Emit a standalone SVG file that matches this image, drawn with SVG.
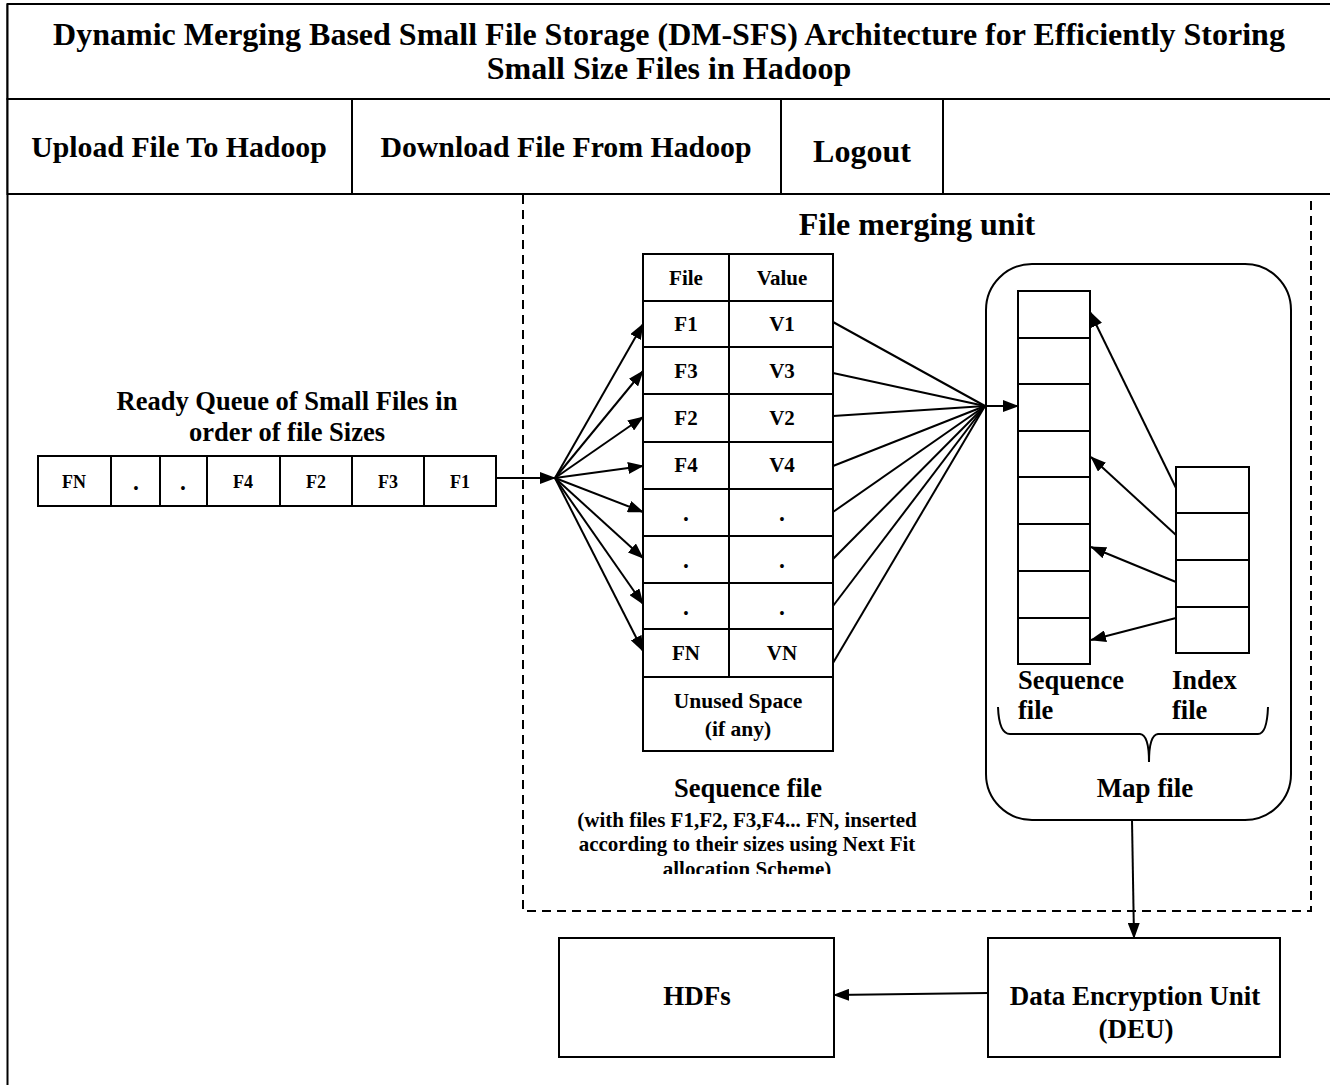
<svg xmlns="http://www.w3.org/2000/svg" width="1330" height="1085" viewBox="0 0 1330 1085">
<style>
text{font-family:"Liberation Serif","Times New Roman",serif;font-weight:bold;fill:#000;text-anchor:middle}
.ln{fill:none;stroke:#000;stroke-width:2}
.box{fill:#fff;stroke:#000;stroke-width:2}
.dash{fill:none;stroke:#000;stroke-width:2;stroke-dasharray:9 6}
.arr{fill:none;stroke:#000;stroke-width:2;marker-end:url(#ah)}
.t18{font-size:18px}.t21{font-size:21px}.t26{font-size:26.5px}.t30{font-size:29.8px}.dot{font-size:14px}
</style>
<defs>
<marker id="ah" markerUnits="userSpaceOnUse" markerWidth="16" markerHeight="12" refX="15" refY="6" orient="auto">
<path d="M0,0 L16,6 L0,12 z" fill="#000"/>
</marker>
<clipPath id="clipSub"><rect x="540" y="800" width="420" height="74"/></clipPath>
</defs>
<rect width="1330" height="1085" fill="#fff"/>

<g id="frame">
<line class="ln" x1="7.5" y1="4" x2="7.5" y2="1085"/>
</g>

<g id="title">
<rect class="box" x="7.5" y="4" width="1330" height="95"/>
<text x="669" y="45" style="font-size:32px">Dynamic Merging Based Small File Storage (DM-SFS) Architecture for Efficiently Storing</text>
<text x="669" y="79" style="font-size:32px">Small Size Files in Hadoop</text>
</g>

<g id="menu">
<rect class="box" x="7.5" y="99" width="1330" height="95"/>
<line class="ln" x1="352" y1="99" x2="352" y2="194"/>
<line class="ln" x1="781" y1="99" x2="781" y2="194"/>
<line class="ln" x1="943" y1="99" x2="943" y2="194"/>
<text class="t30" x="179" y="157">Upload File To Hadoop</text>
<text class="t30" x="566" y="157">Download File From Hadoop</text>
<text x="862" y="162" style="font-size:32px">Logout</text>
</g>

<g id="merging-unit">
<rect class="dash" x="523" y="194" width="788" height="717"/>
<text x="917" y="235" style="font-size:32px">File merging unit</text>
</g>

<g id="ready-queue">
<text x="287" y="410" style="font-size:26.5px">Ready Queue of Small Files in</text>
<text x="287" y="441" style="font-size:26.5px">order of file Sizes</text>
<rect class="box" x="38" y="456" width="458" height="50"/>
<line class="ln" x1="111" y1="456" x2="111" y2="506"/>
<line class="ln" x1="160" y1="456" x2="160" y2="506"/>
<line class="ln" x1="207" y1="456" x2="207" y2="506"/>
<line class="ln" x1="280" y1="456" x2="280" y2="506"/>
<line class="ln" x1="352" y1="456" x2="352" y2="506"/>
<line class="ln" x1="424" y1="456" x2="424" y2="506"/>
<text class="t18" x="74" y="488">FN</text>
<text class="dot" x="136" y="493">•</text>
<text class="dot" x="183" y="493">•</text>
<text class="t18" x="243" y="488">F4</text>
<text class="t18" x="316" y="488">F2</text>
<text class="t18" x="388" y="488">F3</text>
<text class="t18" x="460" y="488">F1</text>
</g>

<g id="sequence-table">
<rect class="box" x="643" y="254" width="190" height="497"/>
<line class="ln" x1="729" y1="254" x2="729" y2="677"/>
<line class="ln" x1="643" y1="301" x2="833" y2="301"/>
<line class="ln" x1="643" y1="347" x2="833" y2="347"/>
<line class="ln" x1="643" y1="394" x2="833" y2="394"/>
<line class="ln" x1="643" y1="442" x2="833" y2="442"/>
<line class="ln" x1="643" y1="489" x2="833" y2="489"/>
<line class="ln" x1="643" y1="536" x2="833" y2="536"/>
<line class="ln" x1="643" y1="583" x2="833" y2="583"/>
<line class="ln" x1="643" y1="629" x2="833" y2="629"/>
<line class="ln" x1="643" y1="677" x2="833" y2="677"/>
<text class="t21" x="686" y="285">File</text>
<text class="t21" x="782" y="285">Value</text>
<text class="t21" x="686" y="331">F1</text>
<text class="t21" x="782" y="331">V1</text>
<text class="t21" x="686" y="378">F3</text>
<text class="t21" x="782" y="378">V3</text>
<text class="t21" x="686" y="425">F2</text>
<text class="t21" x="782" y="425">V2</text>
<text class="t21" x="686" y="472">F4</text>
<text class="t21" x="782" y="472">V4</text>
<text class="dot" x="686" y="524">•</text>
<text class="dot" x="782" y="524">•</text>
<text class="dot" x="686" y="571">•</text>
<text class="dot" x="782" y="571">•</text>
<text class="dot" x="686" y="618">•</text>
<text class="dot" x="782" y="618">•</text>
<text class="t21" x="686" y="660">FN</text>
<text class="t21" x="782" y="660">VN</text>
<text x="738" y="708" style="font-size:21.5px">Unused Space</text>
<text x="738" y="736" style="font-size:21.5px">(if any)</text>
<text class="t26" x="748" y="797">Sequence file</text>
<g clip-path="url(#clipSub)">
<text class="t21" x="747" y="827">(with files F1,F2, F3,F4... FN, inserted</text>
<text class="t21" x="747" y="851">according to their sizes using Next Fit</text>
<text class="t21" x="747" y="876">allocation Scheme)</text>
</g>
</g>

<g id="map-file">
<rect class="box" x="986" y="264" width="305" height="556" rx="46" ry="46"/>
<rect class="box" x="1018" y="291" width="72" height="373"/>
<line class="ln" x1="1018" y1="338" x2="1090" y2="338"/>
<line class="ln" x1="1018" y1="384" x2="1090" y2="384"/>
<line class="ln" x1="1018" y1="431" x2="1090" y2="431"/>
<line class="ln" x1="1018" y1="477" x2="1090" y2="477"/>
<line class="ln" x1="1018" y1="524" x2="1090" y2="524"/>
<line class="ln" x1="1018" y1="571" x2="1090" y2="571"/>
<line class="ln" x1="1018" y1="618" x2="1090" y2="618"/>
<rect class="box" x="1176" y="467" width="73" height="186"/>
<line class="ln" x1="1176" y1="513" x2="1249" y2="513"/>
<line class="ln" x1="1176" y1="560" x2="1249" y2="560"/>
<line class="ln" x1="1176" y1="607" x2="1249" y2="607"/>
<text class="t26" x="1018" y="689" style="text-anchor:start">Sequence</text>
<text class="t26" x="1018" y="719" style="text-anchor:start">file</text>
<text class="t26" x="1172" y="689" style="text-anchor:start">Index</text>
<text class="t26" x="1172" y="719" style="text-anchor:start">file</text>
<path class="ln" d="M998,707 Q999,734 1010,734 L1140,734 Q1149,735 1149,762 Q1149,735 1158,734 L1258,734 Q1267,734 1268,707"/>
<text x="1145" y="797" style="font-size:27px">Map file</text>
</g>

<g id="hdfs">
<rect class="box" x="559" y="938" width="275" height="119"/>
<text x="697" y="1005" style="font-size:27px">HDFs</text>
</g>

<g id="deu">
<rect class="box" x="988" y="938" width="292" height="119"/>
<text x="1135" y="1005" style="font-size:27px">Data Encryption Unit</text>
<text x="1136" y="1038" style="font-size:27px">(DEU)</text>
</g>

<g id="connectors">
<line class="arr" x1="496" y1="478" x2="555" y2="478"/>
<line class="arr" x1="555" y1="478" x2="643" y2="324"/>
<line class="arr" x1="555" y1="478" x2="643" y2="371"/>
<line class="arr" x1="555" y1="478" x2="643" y2="417"/>
<line class="arr" x1="555" y1="478" x2="643" y2="466"/>
<line class="arr" x1="555" y1="478" x2="643" y2="512"/>
<line class="arr" x1="555" y1="478" x2="643" y2="558"/>
<line class="arr" x1="555" y1="478" x2="643" y2="604"/>
<line class="arr" x1="555" y1="478" x2="643" y2="651"/>
<line class="ln" x1="833" y1="322" x2="985" y2="406"/>
<line class="ln" x1="833" y1="373" x2="985" y2="406"/>
<line class="ln" x1="833" y1="416" x2="985" y2="406"/>
<line class="ln" x1="833" y1="466" x2="985" y2="406"/>
<line class="ln" x1="833" y1="512" x2="985" y2="406"/>
<line class="ln" x1="833" y1="559" x2="985" y2="406"/>
<line class="ln" x1="833" y1="606" x2="985" y2="406"/>
<line class="ln" x1="833" y1="663" x2="985" y2="406"/>
<line class="arr" x1="985" y1="406" x2="1018" y2="406"/>
<line class="arr" x1="1176" y1="488" x2="1090" y2="312"/>
<line class="arr" x1="1176" y1="535" x2="1091" y2="457"/>
<line class="arr" x1="1176" y1="582" x2="1091" y2="547"/>
<line class="arr" x1="1176" y1="618" x2="1091" y2="640"/>
<line class="arr" x1="1132" y1="820" x2="1134" y2="938"/>
<line class="arr" x1="988" y1="993" x2="834" y2="995"/>
</g>
</svg>
